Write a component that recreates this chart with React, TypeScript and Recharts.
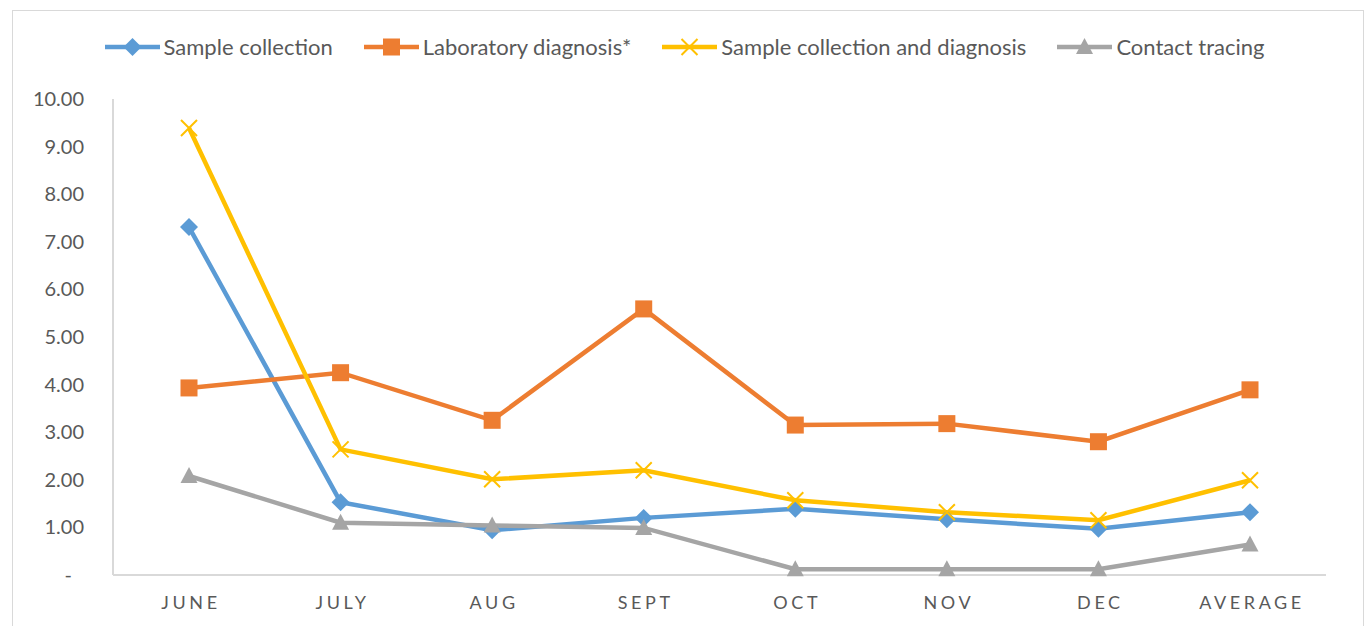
import React from 'react';
import { LineChart, Line, XAxis, YAxis } from 'recharts';

const months = ['JUNE', 'JULY', 'AUG', 'SEPT', 'OCT', 'NOV', 'DEC', 'AVERAGE'];
const sampleCollection = [7.31, 1.53, 0.94, 1.2, 1.39, 1.17, 0.97, 1.32];
const labDiagnosis = [3.93, 4.25, 3.25, 5.59, 3.15, 3.18, 2.8, 3.89];
const sampleAndDiagnosis = [9.39, 2.64, 2.01, 2.2, 1.57, 1.32, 1.15, 1.99];
const contactTracing = [2.08, 1.1, 1.04, 0.99, 0.12, 0.12, 0.12, 0.64];
const yTicks = [0, 1, 2, 3, 4, 5, 6, 7, 8, 9, 10];

const data = months.map((m, i) => ({
  month: m,
  sample: sampleCollection[i],
  lab: labDiagnosis[i],
  both: sampleAndDiagnosis[i],
  contact: contactTracing[i],
}));

const FONT = 'Lato, "Open Sans", sans-serif';
const TEXT = '#595959';
const AXIS = '#d9d9d9';

const BLUE = '#5B9BD5';
const ORANGE = '#ED7D31';
const YELLOW = '#FFC000';
const GRAY = '#A5A5A5';

type Shape = 'diamond' | 'square' | 'x' | 'triangle';

const marker = (shape: Shape, color: string, cx: number, cy: number, key?: string) => {
  if (shape === 'diamond') {
    return <path key={key} d={`M${cx},${cy - 9} L${cx + 9},${cy} L${cx},${cy + 9} L${cx - 9},${cy} Z`} fill={color} />;
  }
  if (shape === 'square') {
    return <rect key={key} x={cx - 8.5} y={cy - 8.5} width={17} height={17} fill={color} />;
  }
  if (shape === 'x') {
    return (
      <path
        key={key}
        d={`M${cx - 8},${cy - 8} L${cx + 8},${cy + 8} M${cx + 8},${cy - 8} L${cx - 8},${cy + 8}`}
        stroke={color}
        strokeWidth={2}
        fill="none"
      />
    );
  }
  return <path key={key} d={`M${cx},${cy - 9} L${cx + 8.5},${cy + 7} L${cx - 8.5},${cy + 7} Z`} fill={color} />;
};

const dotFor = (shape: Shape, color: string) => (props: any) => {
  const { cx, cy, index } = props;
  return marker(shape, color, cx, cy, `${shape}-${index}`);
};

const legendItems: { label: string; color: string; shape: Shape }[] = [
  { label: 'Sample collection', color: BLUE, shape: 'diamond' },
  { label: 'Laboratory diagnosis*', color: ORANGE, shape: 'square' },
  { label: 'Sample collection and diagnosis', color: YELLOW, shape: 'x' },
  { label: 'Contact tracing', color: GRAY, shape: 'triangle' },
];

const YTick = (props: any) => {
  const { x, y, payload } = props;
  const v = payload.value;
  return (
    <text
      x={v === 0 ? x - 12 : x}
      y={y}
      dy={7}
      textAnchor="end"
      fill={TEXT}
      fontSize={20}
      fontFamily={FONT}
    >
      {v === 0 ? '-' : v.toFixed(2)}
    </text>
  );
};

const XTick = (props: any) => {
  const { x, y, payload } = props;
  return (
    <text
      x={x + 2}
      y={y}
      dy={16}
      textAnchor="middle"
      fill={TEXT}
      fontSize={18}
      fontFamily={FONT}
      letterSpacing={3.6}
    >
      {payload.value}
    </text>
  );
};

export default function App() {
  return (
    <div style={{ position: 'fixed', left: 0, top: 0, width: 1369, height: 626, background: '#fff', overflow: 'hidden' }}>
      <div
        style={{
          position: 'absolute',
          left: 12,
          top: 10,
          width: 1352,
          height: 700,
          border: `1px solid ${AXIS}`,
          boxSizing: 'border-box',
        }}
      />
      <div
        style={{
          position: 'absolute',
          left: 0,
          top: 33,
          width: 1369,
          display: 'flex',
          justifyContent: 'center',
          fontFamily: FONT,
          fontSize: 22,
          color: TEXT,
        }}
      >
        {legendItems.map((it, i) => (
          <div key={it.label} style={{ display: 'flex', alignItems: 'center', marginLeft: i === 0 ? 0 : 31 }}>
            <svg width={55} height={26} style={{ marginRight: 4 }}>
              <line x1={0} y1={13} x2={55} y2={13} stroke={it.color} strokeWidth={4.5} />
              {marker(it.shape, it.color, 27.5, 13)}
            </svg>
            <span>{it.label}</span>
          </div>
        ))}
      </div>
      <div style={{ position: 'absolute', left: 0, top: 0 }}>
        <LineChart width={1369} height={626} data={data} margin={{ top: 99, right: 43, bottom: 0, left: 0 }}>
          <XAxis
            dataKey="month"
            height={51}
            padding={{ left: 76, right: 76 }}
            axisLine={{ stroke: AXIS, strokeWidth: 2 }}
            tickLine={false}
            tickSize={0}
            tickMargin={18}
            tick={<XTick />}
            interval={0}
          />
          <YAxis
            width={113}
            domain={[0, 10]}
            ticks={yTicks}
            axisLine={{ stroke: AXIS, strokeWidth: 2 }}
            tickLine={false}
            tickSize={0}
            tickMargin={29}
            tick={<YTick />}
            interval={0}
          />
          <Line dataKey="sample" stroke={BLUE} strokeWidth={4.5} dot={dotFor('diamond', BLUE)} isAnimationActive={false} />
          <Line dataKey="lab" stroke={ORANGE} strokeWidth={4.5} dot={dotFor('square', ORANGE)} isAnimationActive={false} />
          <Line dataKey="both" stroke={YELLOW} strokeWidth={4.5} dot={dotFor('x', YELLOW)} isAnimationActive={false} />
          <Line dataKey="contact" stroke={GRAY} strokeWidth={4.5} dot={dotFor('triangle', GRAY)} isAnimationActive={false} />
        </LineChart>
      </div>
    </div>
  );
}
